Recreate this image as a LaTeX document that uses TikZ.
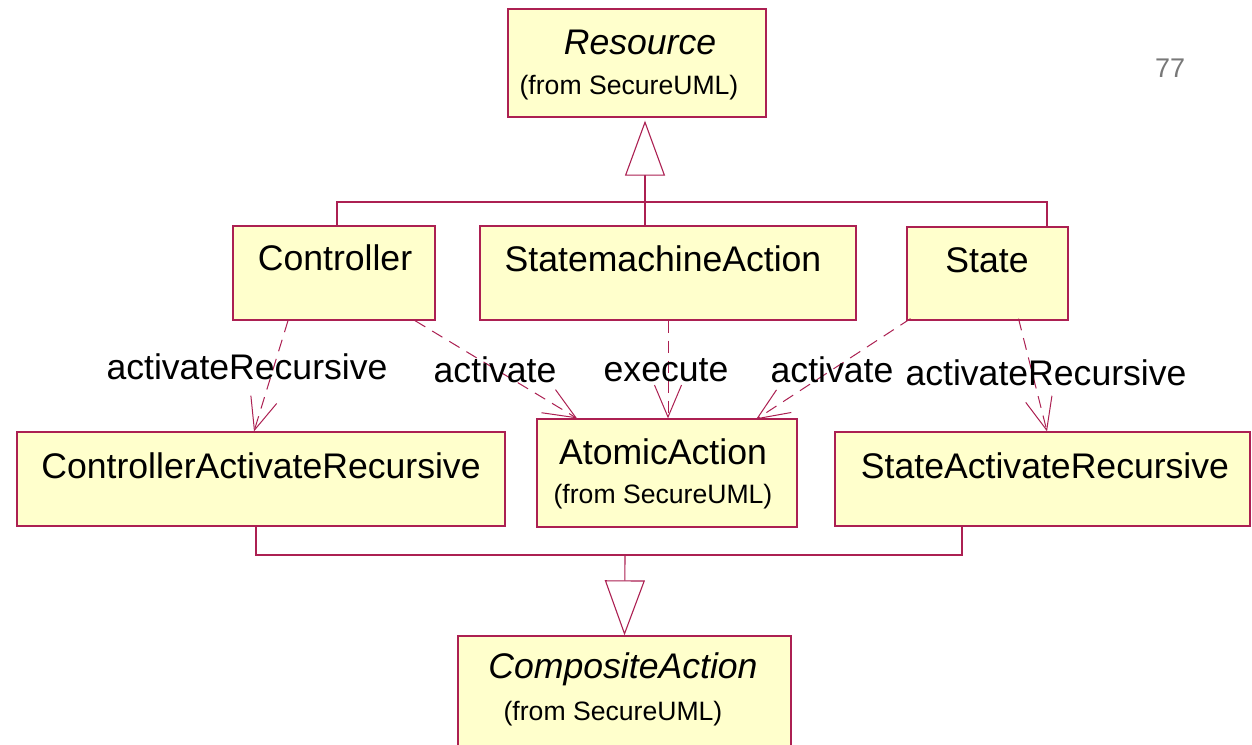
\documentclass[tikz,border=0pt]{standalone}
\usepackage{fontspec}
\setmainfont{Liberation Sans}
\usetikzlibrary{arrows.meta}
\definecolor{umlline}{RGB}{172,32,82}
\definecolor{umlfill}{RGB}{255,255,204}
\definecolor{pagenum}{RGB}{120,120,120}
\tikzset{
  classbox/.style={draw=umlline, fill=umlfill, line width=1.3pt, rectangle, inner sep=0pt},
  bigtxt/.style={inner sep=0pt, font=\fontsize{35.6}{42}\selectfont},
  smalltxt/.style={inner sep=0pt, font=\fontsize{26.6}{31}\selectfont},
  lbl/.style={inner sep=0pt, font=\fontsize{35.6}{42}\selectfont},
  gen/.style={draw=umlline, line width=1.1pt},
  dep/.style={draw=umlline, line width=1pt, dash pattern=on 12pt off 8pt,
    -{Straight Barb[length=32pt,width=27pt,line width=1pt]}},
  gentip/.style={gen, -{Triangle[open,length=55pt,width=40pt,fill=white,line width=1.1pt]}}
}
\begin{document}
\begin{tikzpicture}[x=1pt,y=-1pt]
\useasboundingbox (0,0) rectangle (1252,744);
\clip (0,0) rectangle (1252,744);
\fill[white] (0,0) rectangle (1252,744);
% boxes
\node[classbox, minimum width=258pt, minimum height=108pt] (res) at (637,63) {};
\node[classbox, minimum width=202pt, minimum height=94pt] (ctrl) at (334,273) {};
\node[classbox, minimum width=376pt, minimum height=94pt] (sma) at (668,273) {};
\node[classbox, minimum width=161pt, minimum height=93pt] (state) at (987.5,273.5) {};
\node[classbox, minimum width=488pt, minimum height=94pt] (car) at (261,479) {};
\node[classbox, minimum width=260pt, minimum height=108pt] (atom) at (667,473) {};
\node[classbox, minimum width=415pt, minimum height=94pt] (sar) at (1042.5,479) {};
\node[classbox, minimum width=333pt, minimum height=140pt] (comp) at (624.5,706) {};
% texts
\node[bigtxt, font=\fontsize{35.6}{42}\selectfont\itshape] (resT) at (640,42) {Resource};
\node[smalltxt] (resF) at (629,88) {(from SecureUML)};
\node[bigtxt] (ctrlT) at (335,258) {Controller};
\node[bigtxt] (smaT) at (663,259) {StatemachineAction};
\node[bigtxt] (stateT) at (987,260) {State};
\node[bigtxt] (carT) at (261,466) {ControllerActivateRecursive};
\node[bigtxt] (atomT) at (663,452) {AtomicAction};
\node[smalltxt] (atomF) at (663,497) {(from SecureUML)};
\node[bigtxt] (sarT) at (1045,466) {StateActivateRecursive};
\node[bigtxt, font=\fontsize{35.6}{42}\selectfont\itshape] (compT) at (623,669) {CompositeAction};
\node[smalltxt] (compF) at (613,714) {(from SecureUML)};
\node[inner sep=0pt, text=pagenum, font=\fontsize{27}{32}\selectfont] (pg) at (1170,68) {77};
% generalization to Resource
\coordinate (jtop) at (645,202);
\draw[gen] ([xshift=3pt]ctrl.north) |- (jtop) -| ([xshift=59.5pt]state.north);
\draw[gen] ([xshift=-23pt]sma.north) -- (jtop);
\draw[gentip] (jtop) -- ([xshift=8pt,yshift=-3pt]res.south);
% generalization to CompositeAction
\coordinate (jbot) at (625,555);
\draw[gen] ([xshift=-5pt]car.south) |- (jbot) -| ([xshift=-80.5pt]sar.south);
\draw[gentip] (jbot) -- (comp.north);
% dependencies
\draw[dep] ([xshift=-46pt]ctrl.south) -- ([xshift=-7pt]car.north);
\draw[dep] ([xshift=81pt]ctrl.south) -- ([xshift=-90pt]atom.north);
\draw[dep] (sma.south) -- ([xshift=1pt]atom.north);
\draw[dep] ([xshift=-77pt,yshift=2pt]state.south) -- ([xshift=89pt,yshift=-1pt]atom.north);
\draw[dep] ([xshift=31pt,yshift=2pt]state.south) -- ([xshift=4.5pt]sar.north);
% labels
\node[lbl] (l1) at (247,367) {activateRecursive};
\node[lbl] (l2) at (495,370) {activate};
\node[lbl] (l3) at (666,370) {execute};
\node[lbl] (l4) at (832,370) {activate};
\node[lbl] (l5) at (1046,373) {activateRecursive};
\end{tikzpicture}
\end{document}
